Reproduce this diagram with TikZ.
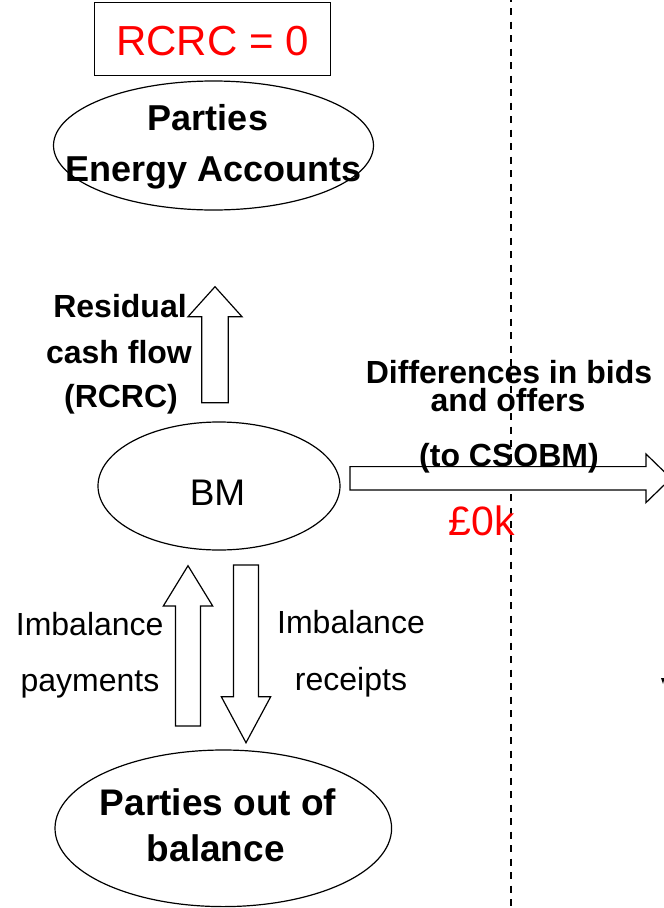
\documentclass[tikz,border=0pt]{standalone}
\usepackage{fontspec}
\setmainfont{Liberation Sans}
\usetikzlibrary{shapes.geometric}
\definecolor{pured}{RGB}{255,0,0}
\tikzset{
  oval/.style={ellipse, draw, line width=1.2pt, inner sep=0pt, fill=white},
  lbl/.style={anchor=base, inner sep=0pt},
  boldlbl/.style={lbl, font=\fontsize{32}{38}\selectfont\bfseries},
  plainlbl/.style={lbl, font=\fontsize{32}{38}\selectfont},
  blockarrow/.style={draw, fill=white, line width=1.2pt, line join=miter},
  divider/.style={line width=1.3pt, dash pattern=on 7pt off 6.5pt}
}
\begin{document}
\begin{tikzpicture}[x=1pt,y=-1pt]
\useasboundingbox (0,0) rectangle (664,908);

% vertical dashed divider
\coordinate (divtop) at (511,-5.3);
\coordinate (divbot) at (511,912);
\draw[divider] (divtop) -- (divbot);

% RCRC summary box
\node[draw, line width=1pt, minimum width=236.7pt, minimum height=73pt, inner sep=0pt] (rcrcbox) at (212.4,39) {};
\node[lbl, text=pured, font=\fontsize{42}{50}\selectfont] (rcrctext) at (212.5,55) {RCRC = 0};

% ovals
\node[oval, minimum width=320pt, minimum height=129pt] (pea) at (213.5,145.5) {};
\node[oval, minimum width=242pt, minimum height=128pt] (bm) at (219,486) {};
\node[oval, minimum width=336.6pt, minimum height=156.6pt] (pob) at (223.3,828.3) {};

% oval texts
\node[lbl, font=\fontsize{36}{44}\selectfont\bfseries] (pea1) at (208,130) {Parties};
\node[lbl, font=\fontsize{36}{44}\selectfont\bfseries] (pea2) at (213.5,181) {Energy Accounts};
\node[lbl, font=\fontsize{37}{44}\selectfont] (bmtext) at (217.5,505) {BM};
\node[lbl, font=\fontsize{37}{44}\selectfont\bfseries] (pob1) at (218,815) {Parties out of};
\node[lbl, font=\fontsize{37}{44}\selectfont\bfseries] (pob2) at (215.8,861.7) {balance};

% block arrows
% residual cash flow, BM up to the energy accounts
\draw[blockarrow] (201.7,402.7) -- (201.7,316.7) -- (188,316.7) -- (215,286.7)
  -- (242,316.7) -- (228.3,316.7) -- (228.3,402.7) -- cycle;
% differences in bids and offers, BM to the right
\draw[blockarrow] (350,466.6) -- (646,466.6) -- (646,454) -- (671,478.3)
  -- (646,502.6) -- (646,490) -- (350,490) -- cycle;
% imbalance payments, up into BM
\draw[blockarrow] (175.5,726) -- (175.5,606) -- (163.3,606) -- (188,565.7)
  -- (212.7,606) -- (200.5,606) -- (200.5,726) -- cycle;
% imbalance receipts, down out of BM
\draw[blockarrow] (233.5,565) -- (258.5,565) -- (258.5,696.7) -- (270.7,696.7)
  -- (246,742.7) -- (221.3,696.7) -- (233.5,696.7) -- cycle;

% arrow labels
\node[boldlbl] (res1) at (120,317) {Residual};
\node[boldlbl] (res2) at (119,363) {cash flow};
\node[boldlbl] (res3) at (121,407) {(RCRC)};

\node[boldlbl] (dif1) at (509,383.5) {Differences in bids};
\node[boldlbl] (dif2) at (508,411.7) {and offers};
\node[boldlbl] (dif3) at (509,466.5) {(to CSOBM)};
\node[lbl, text=pured, font=\fontsize{41}{48}\selectfont] (difval) at (481.5,535) {£0k};

\node[plainlbl] (pay1) at (89.7,635) {Imbalance};
\node[plainlbl] (pay2) at (90,691.7) {payments};
\node[plainlbl] (rec1) at (351,633) {Imbalance};
\node[plainlbl] (rec2) at (351,690) {receipts};

% small mark at the right edge
\fill (661,678) -- (664.5,678) -- (663,684) -- cycle;
\end{tikzpicture}
\end{document}
